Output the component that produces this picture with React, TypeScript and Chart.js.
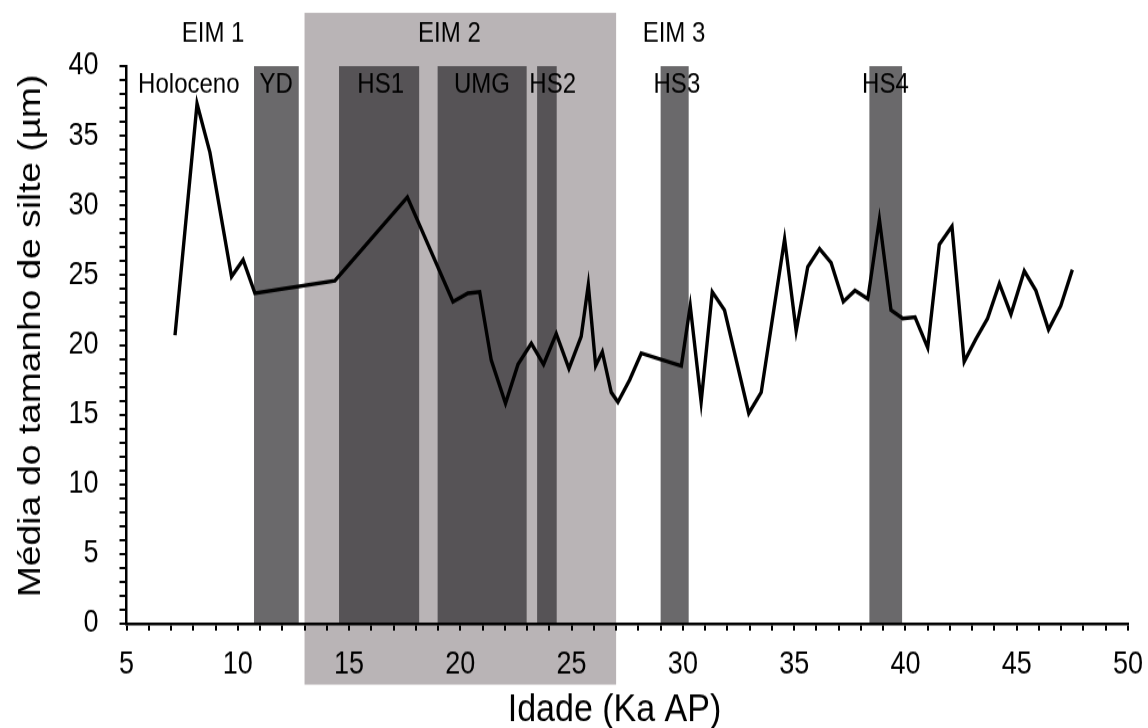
import { useEffect, useRef } from 'react';
import { Chart, registerables } from 'chart.js';

Chart.register(...registerables);

// ---- data ----
const ages = [
  7.18, 8.17, 8.75, 9.72, 10.24, 10.77, 14.36, 17.62, 19.67, 20.34,
  20.87, 21.39, 22.03, 22.59, 23.19, 23.74, 24.31, 24.88, 25.43, 25.75,
  26.08, 26.38, 26.78, 27.08, 27.61, 28.13, 29.93, 30.33, 30.82, 31.32,
  31.87, 32.96, 33.52, 34.57, 35.09, 35.61, 36.14, 36.66, 37.21, 37.73,
  38.31, 38.83, 39.35, 39.88, 40.43, 41.0, 41.52, 42.09, 42.64, 43.16,
  43.69, 44.22, 44.74, 45.34, 45.86, 46.43, 46.98, 47.5,
];
const siltMean = [
  20.7, 37.3, 33.8, 24.9, 26.1, 23.7, 24.6, 30.6, 23.1, 23.7,
  23.8, 18.9, 15.8, 18.6, 20.1, 18.6, 20.8, 18.3, 20.6, 24.3,
  18.5, 19.5, 16.6, 15.9, 17.5, 19.4, 18.5, 22.8, 15.9, 23.8,
  22.5, 15.1, 16.6, 27.6, 21.0, 25.6, 26.9, 25.9, 23.1, 23.9,
  23.3, 29.0, 22.5, 21.9, 22.0, 19.8, 27.2, 28.5, 18.8, 20.4,
  21.9, 24.4, 22.2, 25.3, 23.9, 21.1, 22.8, 25.4,
];

// isotope stages (EIM)
const stageNames = ['EIM 1', 'EIM 2', 'EIM 3'];
const stageLabelAt = [8.89, 19.51, 29.6];
const eim2Range = [13, 27];
const eim2Vertical = [43.82, -4.37];

// stadial / event intervals
const eventNames = ['YD', 'HS1', 'UMG', 'HS2', 'HS3', 'HS4'];
const eventStart = [10.73, 14.55, 18.98, 23.45, 29.0, 38.38];
const eventEnd = [12.74, 18.15, 22.98, 24.33, 30.26, 39.85];
const eventLabelAt = [11.72, 16.42, 20.97, 24.15, 29.73, 39.1];
const holoceneLabelAt = 7.8;

const stageLabelLevel = 41.72;
const eventLabelLevel = 38.09;

const xMin = 5, xMax = 50, xStep = 1, xLabelEvery = 5;
const yMin = 0, yMax = 40, yStep = 1, yLabelEvery = 5;

const xTitle = 'Idade (Ka AP)';
const yTitle = 'Média do tamanho de silte (µm)';

// ---- layout / style ----
const W = 1148;
const H = 728;
const K = 1.16; // vertical stretch of the reference picture
const HI = Math.round(H / K);
const FONT = '"Liberation Sans", Arial, Helvetica, sans-serif';
const LIGHT = 'rgb(185,180,182)';
const DARK = 'rgba(45,44,46,0.71)';

const annotations = {
  id: 'annotations',
  beforeDraw(chart: any) {
    const { ctx, chartArea } = chart;
    const x = chart.scales.x;
    const y = chart.scales.y;
    ctx.save();
    // EIM 2 light band (extends outside the plot area)
    const l = x.getPixelForValue(eim2Range[0]);
    const r = x.getPixelForValue(eim2Range[1]);
    const t = y.getPixelForValue(eim2Vertical[0]);
    const b = y.getPixelForValue(eim2Vertical[1]);
    ctx.fillStyle = LIGHT;
    ctx.fillRect(l, t, r - l, b - t);
    // dark event bands
    ctx.fillStyle = DARK;
    for (let i = 0; i < eventStart.length; i++) {
      const a = x.getPixelForValue(eventStart[i]);
      const e = x.getPixelForValue(eventEnd[i]);
      ctx.fillRect(a, chartArea.top, e - a, chartArea.bottom - chartArea.top);
    }
    ctx.restore();
  },
  afterDatasetsDraw(chart: any) {
    const { ctx } = chart;
    const x = chart.scales.x;
    const y = chart.scales.y;
    ctx.save();
    ctx.fillStyle = '#000';
    ctx.font = `24px ${FONT}`;
    ctx.textAlign = 'center';
    ctx.textBaseline = 'alphabetic';
    stageNames.forEach((n, i) => {
      ctx.fillText(n, x.getPixelForValue(stageLabelAt[i]), y.getPixelForValue(stageLabelLevel));
    });
    ctx.fillText('Holoceno', x.getPixelForValue(holoceneLabelAt), y.getPixelForValue(eventLabelLevel));
    eventNames.forEach((n, i) => {
      ctx.fillText(n, x.getPixelForValue(eventLabelAt[i]), y.getPixelForValue(eventLabelLevel));
    });
    ctx.restore();
  },
  afterDraw(chart: any) {
    const { ctx } = chart;
    ctx.save();
    ctx.fillStyle = '#000';
    ctx.textAlign = 'center';
    // x axis title
    ctx.font = `34px ${FONT}`;
    ctx.textBaseline = 'alphabetic';
    ctx.fillText(xTitle, 614.5, 722 / K);
    // y axis title
    ctx.font = `32px ${FONT}`;
    ctx.textBaseline = 'middle';
    ctx.translate(31, 336 / K);
    ctx.rotate(-Math.PI / 2);
    ctx.fillText(yTitle, 0, 0);
    ctx.restore();
  },
};

export default function App() {
  const ref = useRef<HTMLCanvasElement>(null);
  useEffect(() => {
    document.body.style.margin = '0';
    const canvas = ref.current;
    if (!canvas) return;
    const chart = new Chart(canvas, {
      type: 'line',
      data: {
        datasets: [
          {
            data: ages.map((a, i) => ({ x: a, y: siltMean[i] })),
            borderColor: '#000',
            borderWidth: 3.4,
            pointRadius: 0,
            tension: 0,
            fill: false,
            borderJoinStyle: 'miter',
          },
        ],
      },
      options: {
        animation: false,
        responsive: false,
        devicePixelRatio: 1,
        layout: { padding: { top: 57, right: 20, left: 0, bottom: 0 } },
        plugins: { legend: { display: false }, tooltip: { enabled: false } },
        scales: {
          x: {
            type: 'linear',
            min: xMin,
            max: xMax,
            afterFit: (s: any) => {
              s.height = 90;
              s.paddingLeft = 0;
              s.paddingRight = 0;
            },
            ticks: {
              stepSize: xStep,
              autoSkip: false,
              maxRotation: 0,
              padding: 13,
              color: '#000',
              font: { size: 27, family: FONT },
              callback: (v: any) => (Number(v) % xLabelEvery === 0 ? String(v) : ''),
            },
            grid: { drawOnChartArea: false, drawTicks: true, tickLength: 6, color: '#000', lineWidth: 2 },
            border: { display: true, color: '#000', width: 2.5 },
            title: { display: false },
          },
          y: {
            min: yMin,
            max: yMax,
            afterFit: (s: any) => {
              s.width = 126.5;
              s.paddingTop = 0;
              s.paddingBottom = 0;
            },
            ticks: {
              stepSize: yStep,
              autoSkip: false,
              padding: 21,
              color: '#000',
              font: { size: 27, family: FONT },
              callback: (v: any) => (Number(v) % yLabelEvery === 0 ? String(v) : ''),
            },
            grid: { drawOnChartArea: false, drawTicks: true, tickLength: 7, color: '#000', lineWidth: 2 },
            border: { display: true, color: '#000', width: 2.5 },
            title: { display: false },
          },
        },
      },
      plugins: [annotations],
    } as any);
    return () => chart.destroy();
  }, []);
  return (
    <div style={{ position: 'fixed', left: 0, top: 0, width: W, height: H, background: '#fff' }}>
      <canvas
        ref={ref}
        width={W}
        height={HI}
        style={{ width: `${W}px`, height: `${H}px`, display: 'block' }}
      />
    </div>
  );
}
